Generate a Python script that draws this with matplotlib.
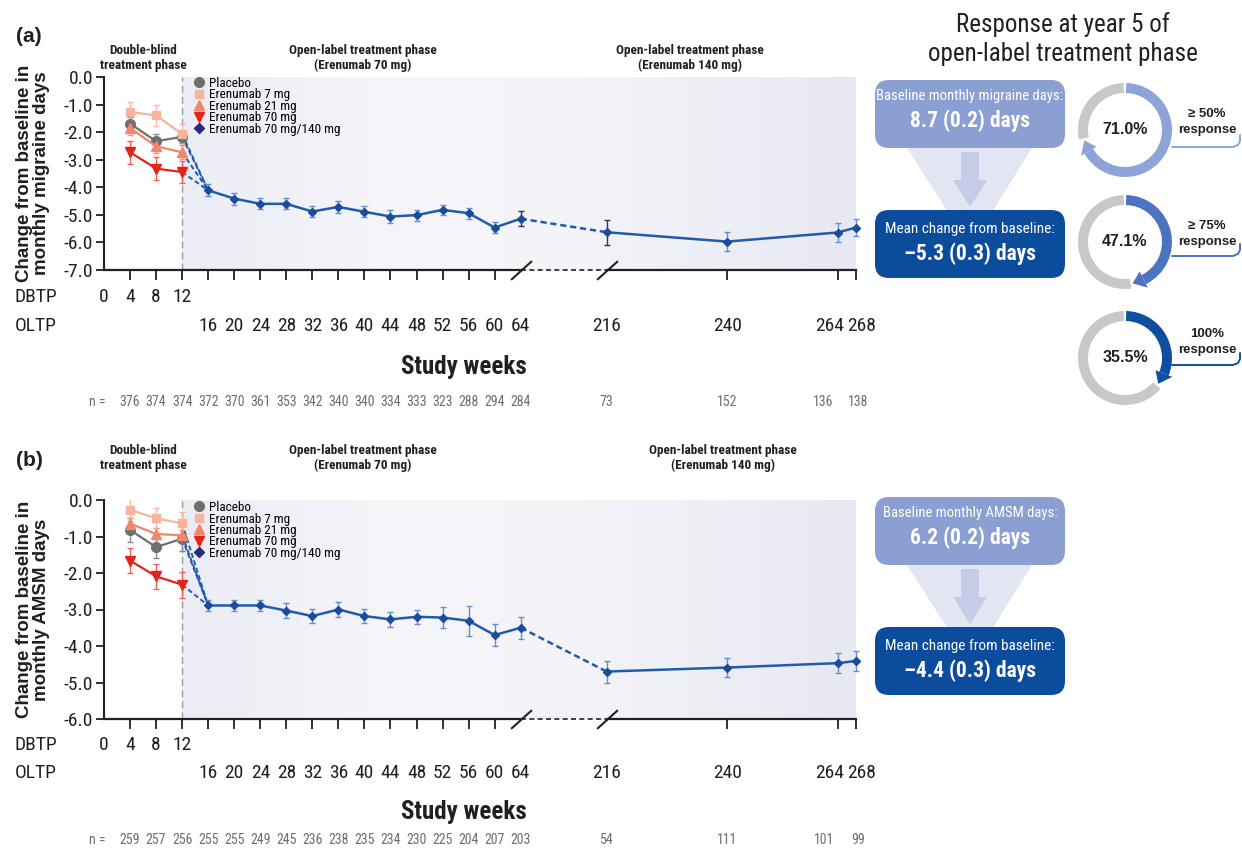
import numpy as np
import matplotlib
matplotlib.use('Agg')
import matplotlib.pyplot as plt
import matplotlib.transforms as mtransforms
from matplotlib.colors import LinearSegmentedColormap
from matplotlib.lines import Line2D
from matplotlib.patches import FancyBboxPatch, Polygon, Wedge, Rectangle

NARROW = ['Roboto Condensed', 'Archivo Narrow', 'DejaVu Sans']
SANS = ['Liberation Sans', 'DejaVu Sans']
plt.rcParams['font.family'] = NARROW

# ---- data -------------------------------------------------------------
weeks_db = [4, 8, 12]
weeks_ol = [16, 20, 24, 28, 32, 36, 40, 44, 48, 52, 56, 60, 64, 216, 240, 264, 268]
weeks_n = weeks_db + weeks_ol

group_names = ['Placebo', 'Erenumab 7 mg', 'Erenumab 21 mg', 'Erenumab 70 mg',
               'Erenumab 70 mg/140 mg']

# (a) monthly migraine days, double-blind phase: mean and SE
mmd_placebo = [-1.69, -2.33, -2.17]
mmd_placebo_se = [0.25, 0.25, 0.22]
mmd_7mg = [-1.27, -1.39, -2.07]
mmd_7mg_se = [0.38, 0.38, 0.38]
mmd_21mg = [-1.85, -2.51, -2.73]
mmd_21mg_se = [0.25, 0.25, 0.25]
mmd_70mg = [-2.73, -3.32, -3.45]
mmd_70mg_se = [0.42, 0.42, 0.40]
# (a) open-label phase
mmd_ol = [-4.11, -4.41, -4.60, -4.60, -4.88, -4.71, -4.89, -5.06, -5.01,
          -4.82, -4.94, -5.46, -5.14, -5.63, -5.97, -5.64, -5.46]
mmd_ol_se = [0.22, 0.22, 0.20, 0.20, 0.20, 0.22, 0.20, 0.22, 0.20,
             0.18, 0.20, 0.20, 0.28, 0.46, 0.34, 0.34, 0.32]
mmd_n = [376, 374, 374, 372, 370, 361, 353, 342, 340, 340, 334, 333, 323,
         288, 294, 284, 73, 152, 136, 138]

# (b) monthly acute migraine-specific medication days
amsm_placebo = [-0.82, -1.29, -1.06]
amsm_placebo_se = [0.32, 0.30, 0.35]
amsm_7mg = [-0.27, -0.50, -0.64]
amsm_7mg_se = [0.30, 0.28, 0.30]
amsm_21mg = [-0.65, -0.93, -0.97]
amsm_21mg_se = [0.15, 0.15, 0.15]
amsm_70mg = [-1.66, -2.09, -2.32]
amsm_70mg_se = [0.34, 0.35, 0.36]
amsm_ol = [-2.89, -2.89, -2.89, -3.03, -3.18, -3.00, -3.18, -3.27, -3.20,
           -3.22, -3.31, -3.70, -3.50, -4.70, -4.59, -4.47, -4.41]
amsm_ol_se = [0.15, 0.15, 0.15, 0.20, 0.20, 0.20, 0.20, 0.20, 0.20,
              0.30, 0.41, 0.30, 0.30, 0.30, 0.27, 0.27, 0.27]
amsm_n = [259, 257, 256, 255, 255, 249, 245, 236, 238, 235, 234, 230, 225,
          204, 207, 203, 54, 111, 101, 99]

db_ticks = [0, 4, 8, 12]
ol_ticks = [16, 20, 24, 28, 32, 36, 40, 44, 48, 52, 56, 60, 64, 216, 240, 264, 268]

response_pct = [71.0, 47.1, 35.5]
response_labels = ['\u2265 50%\nresponse', '\u2265 75%\nresponse', '100%\nresponse']

# ---- colours ----------------------------------------------------------
AXIS = '#231f20'
BLUE = '#1f5cab'
DIAMOND = '#1b4b9b'
EBAR = '#5f90d0'
NAVY = '#2b2a7f'
group_colors = ['#6f6f6f', '#f6b49d', '#f2866a', '#e1251b', NAVY]
group_ecolors = ['#8a8a8a', '#f4b9a5', '#f29a82', '#e8635a']
group_markers = ['o', 's', '^', 'v', 'D']
group_ms = [7, 5.5, 7.5, 7.5, 5]
donut_colors = ['#8ea3d7', '#4c73c1', '#0e4fa0']
BOX_LIGHT = '#8c9fd3'
BOX_DARK = '#0c4c9c'


# broken week axis: 0-64 linear, then compressed 216-268
KW = [0, 64, 216, 240, 268]
KU = [0, 64, 77.2, 95.7, 115.5]


def week_fwd(w):
    w = np.asarray(w, dtype=float)
    return np.where(w > 268, 115.5 + (w - 268) * 0.7,
                    np.where(w < 0, w, np.interp(w, KW, KU)))


def week_inv(u):
    u = np.asarray(u, dtype=float)
    return np.where(u > 115.5, 268 + (u - 115.5) / 0.7,
                    np.where(u < 0, u, np.interp(u, KU, KW)))


W, H = 1242, 851
fig = plt.figure(figsize=(W / 100, H / 100), dpi=100)

ov = fig.add_axes([0, 0, 1, 1], zorder=5)
ov.set_xlim(0, W)
ov.set_ylim(H, 0)
ov.axis('off')


def px_rect(left, top, right, bottom):
    return [left / W, 1 - bottom / H, (right - left) / W, (bottom - top) / H]


shade = LinearSegmentedColormap.from_list(
    'shade', [(0.0, '#ececf5'), (0.35, '#f6f6fa'), (0.6, '#f3f3f8'), (1.0, '#e8e8f3')])


def plot_panel(rect, ybot, db_vals, db_se, ol, ol_se, n_counts, ylabel,
               rows_y, dark_ebar, legend_top):
    bg = fig.add_axes(rect, zorder=0)
    bg.axis('off')
    x12 = float(week_fwd(12) / week_fwd(268))
    bg.imshow(np.linspace(0, 1, 256)[None, :], cmap=shade, aspect='auto',
              extent=[x12, 1, 0, 1])
    bg.set_xlim(0, 1)
    bg.set_ylim(0, 1)

    ax = fig.add_axes(rect, zorder=1)
    ax.patch.set_alpha(0)
    ax.set_xscale('function', functions=(week_fwd, week_inv))
    ax.set_xlim(0, 268)
    ax.set_ylim(ybot, 0)

    ax.axvline(12, color='#9b9b9b', ls=(0, (5, 3)), lw=1, zorder=1)

    # double-blind groups and their hand-over to the open-label phase
    for vals, se, c, ec, m, ms in zip(db_vals, db_se, group_colors, group_ecolors,
                                      group_markers, group_ms):
        ax.plot([12, 16], [vals[-1], ol[0]], color=BLUE, ls=(0, (2.5, 1.5)),
                lw=1.4, zorder=2)
        ax.errorbar(weeks_db, vals, yerr=se, color=c, ecolor=ec, marker=m, ms=ms,
                    lw=1.6, elinewidth=1, capsize=2.5, capthick=1, zorder=3)

    k = weeks_ol.index(64)
    ax.plot(weeks_ol[:k + 1], ol[:k + 1], color=BLUE, lw=1.8, zorder=3)
    ax.plot(weeks_ol[k:k + 2], ol[k:k + 2], color=BLUE, lw=1.8,
            ls=(0, (2.5, 1.5)), zorder=3)
    ax.plot(weeks_ol[k + 1:], ol[k + 1:], color=BLUE, lw=1.8, zorder=3,
            clip_on=False)
    light = [i for i in range(len(weeks_ol)) if weeks_ol[i] not in dark_ebar]
    dark = [i for i in range(len(weeks_ol)) if weeks_ol[i] in dark_ebar]
    for idx, ec in ((light, EBAR), (dark, NAVY)):
        if idx:
            ax.errorbar([weeks_ol[i] for i in idx], [ol[i] for i in idx],
                        yerr=[ol_se[i] for i in idx], fmt='none', ecolor=ec,
                        elinewidth=1, capsize=2.5, capthick=1, zorder=3,
                        clip_on=False)
    ax.plot(weeks_ol, ol, 'D', ms=4.2, color=DIAMOND, zorder=4, clip_on=False)

    handles = [Line2D([], [], ls='none', marker=m, color=c, ms=ms)
               for m, c, ms in zip(group_markers, group_colors, group_ms)]
    ax.legend(handles, group_names, loc='upper left',
              bbox_to_anchor=(0.12, legend_top), frameon=False, fontsize=9.5,
              handlelength=0.7, handletextpad=0.4, labelspacing=-0.12,
              borderpad=0, borderaxespad=0)

    # axes frame with the broken bottom axis
    for s in ('top', 'right', 'bottom'):
        ax.spines[s].set_visible(False)
    ax.spines['left'].set_color(AXIS)
    ax.spines['left'].set_linewidth(1.5)
    ax.plot([0, 64], [ybot, ybot], color=AXIS, lw=1.6, clip_on=False, zorder=5)
    ax.plot([64, 216], [ybot, ybot], color=AXIS, lw=1.2, ls=(0, (3, 2)),
            clip_on=False, zorder=5)
    ax.plot([216, 268], [ybot, ybot], color=AXIS, lw=1.6, clip_on=False, zorder=5)
    ax.plot([64, 216], [ybot, ybot], ls='none', marker=[(-1, -0.9), (1, 0.9)],
            ms=15, mew=1.5, mec=AXIS, clip_on=False, zorder=6)

    ax.set_xticks([4, 8, 12, 16, 20, 24, 28, 32, 36, 40, 44, 48, 52, 56, 60,
                   240, 264, 268])
    ax.tick_params(axis='x', direction='out', length=7, width=1.3, color=AXIS,
                   labelbottom=False)
    yt = np.arange(0, ybot - 1, -1)
    ax.set_yticks(yt)
    ax.set_yticklabels(['%.1f' % float(v) for v in yt])
    ax.tick_params(axis='y', direction='out', length=6, width=1.3, color=AXIS,
                   labelsize=14, labelcolor=AXIS, pad=2)
    ax.minorticks_off()

    # two-row week labels and patient counts under the axis
    blend = mtransforms.blended_transform_factory(ax.transData, ov.transData)
    y_db, y_ol, y_title, y_n = rows_y
    ov.text(15, y_db, 'DBTP', ha='left', va='center', fontsize=14, color=AXIS)
    ov.text(15, y_ol, 'OLTP', ha='left', va='center', fontsize=14, color=AXIS)
    for w in db_ticks:
        ov.text(w, y_db, str(w), transform=blend, ha='center', va='center',
                fontsize=14, color=AXIS)
    shift = {264: -8, 268: 6}
    for w in ol_ticks:
        tr = mtransforms.offset_copy(blend, fig=fig, x=shift.get(w, 0), y=0,
                                     units='dots')
        ov.text(w, y_ol, str(w), transform=tr, ha='center', va='center',
                fontsize=14, color=AXIS)
    ov.text(464, y_title, 'Study weeks', ha='center', va='center', fontsize=18,
            fontweight='bold', color=AXIS)
    ov.text(97, y_n, 'n =', ha='center', va='center', fontsize=10,
            color='#6d6e71')
    nshift = {264: -14, 268: 2}
    for w, n in zip(weeks_n, n_counts):
        tr = mtransforms.offset_copy(blend, fig=fig, x=nshift.get(w, 0), y=0,
                                     units='dots')
        ov.text(w, y_n, str(n), transform=tr, ha='center', va='center',
                fontsize=10, color='#6d6e71')

    cy = (rect[1] + rect[3] / 2)
    ov.text(33, (1 - cy) * H, ylabel, rotation=90, ha='center', va='center',
            fontsize=13.5, fontweight='bold', family=SANS, color=AXIS,
            linespacing=1.05)
    return ax


def phase_headers(y, x140):
    kw = dict(ha='center', va='center', fontsize=9.5, fontweight='bold',
              color=AXIS, linespacing=1.25)
    ov.text(143, y, 'Double-blind\ntreatment phase', **kw)
    ov.text(363, y, 'Open-label treatment phase\n(Erenumab 70 mg)', **kw)
    ov.text(x140, y, 'Open-label treatment phase\n(Erenumab 140 mg)', **kw)


def summary_boxes(top, label1, value1, value2):
    y0, y1 = top, top + 68
    y2, y3 = top + 130, top + 198
    ov.add_patch(Polygon([(907, y1), (1032, y1), (992, y2 + 2), (948, y2 + 2)],
                         closed=True, color='#e2e6f3', lw=0, zorder=1))
    ov.add_patch(Rectangle((961, y1 + 4), 18, 28, color='#c6cce8', lw=0, zorder=2))
    ov.add_patch(Polygon([(953, y1 + 32), (987, y1 + 32), (970, y2 - 3)],
                         closed=True, color='#c6cce8', lw=0, zorder=2))
    for (a, b), c in (((y0, y1), BOX_LIGHT), ((y2, y3), BOX_DARK)):
        ov.add_patch(FancyBboxPatch((875, a), 190, b - a,
                                    boxstyle='round,pad=0,rounding_size=14',
                                    color=c, lw=0, zorder=3))
    ov.text(970, y0 + 16, label1, ha='center', va='center', fontsize=10.5,
            color='white', zorder=4)
    ov.text(970, y0 + 41, value1, ha='center', va='center', fontsize=15.5,
            fontweight='bold', color='white', zorder=4)
    ov.text(970, y2 + 19, 'Mean change from baseline:', ha='center', va='center',
            fontsize=11, color='white', zorder=4)
    ov.text(970, y2 + 44, value2, ha='center', va='center', fontsize=15.5,
            fontweight='bold', color='white', zorder=4)


def donut(cx, cy, pct, color, label, label_cy, bracket_y):
    r_out, width = 47, 10
    r_mid = r_out - width / 2
    end = -90 + pct * 3.6
    head = 16
    ov.add_patch(Wedge((cx, cy), r_out, -88.5, end - head, width=width,
                       color=color, lw=0))
    ov.add_patch(Wedge((cx, cy), r_out, end + 3, 268.5, width=width,
                       color='#c8c8c8', lw=0))
    t0, t1 = np.deg2rad(end - head), np.deg2rad(end)
    tri = [(cx + (r_mid + 9) * np.cos(t0), cy + (r_mid + 9) * np.sin(t0)),
           (cx + r_mid * np.cos(t1), cy + r_mid * np.sin(t1)),
           (cx + (r_mid - 9) * np.cos(t0), cy + (r_mid - 9) * np.sin(t0))]
    ov.add_patch(Polygon(tri, closed=True, color=color, lw=0))
    ov.text(cx, cy, '%.1f%%' % pct, ha='center', va='center', fontsize=11.5,
            fontweight='bold', family=SANS, color=AXIS)
    ov.text(1207, label_cy, label, ha='center', va='center', fontsize=9.5,
            fontweight='bold', family=SANS, color=AXIS, linespacing=1.35)
    ov.plot([cx + r_out, 1233, 1238, 1240, 1240],
            [bracket_y, bracket_y, bracket_y - 2, bracket_y - 6, bracket_y - 12],
            color=color, lw=1.4, solid_capstyle='round')


# ---- panel (a) --------------------------------------------------------
plot_panel(px_rect(104, 77, 856, 270), -7,
           [mmd_placebo, mmd_7mg, mmd_21mg, mmd_70mg],
           [mmd_placebo_se, mmd_7mg_se, mmd_21mg_se, mmd_70mg_se],
           mmd_ol, mmd_ol_se, mmd_n,
           'Change from baseline in\nmonthly migraine days',
           (297, 326, 367, 402), (64, 216), 1.0)
phase_headers(58, 690)
ov.text(16, 37, '(a)', ha='left', va='center', fontsize=15, fontweight='bold',
        family=SANS, color=AXIS)

ov.text(1063, 39, 'Response at year 5 of\nopen-label treatment phase',
        ha='center', va='center', fontsize=18, color=AXIS, linespacing=1.3)
summary_boxes(80, 'Baseline monthly migraine days:', '8.7 (0.2) days',
              '\u20135.3 (0.3) days')
for pct, c, lab, dcy, lcy, by in zip(response_pct, donut_colors, response_labels,
                                     [130, 242, 358], [122, 234, 342],
                                     [147, 256, 365]):
    donut(1125, dcy, pct, c, lab, lcy, by)

# ---- panel (b) --------------------------------------------------------
plot_panel(px_rect(104, 500, 856, 719), -6,
           [amsm_placebo, amsm_7mg, amsm_21mg, amsm_70mg],
           [amsm_placebo_se, amsm_7mg_se, amsm_21mg_se, amsm_70mg_se],
           amsm_ol, amsm_ol_se, amsm_n,
           'Change from baseline in\nmonthly AMSM days',
           (745, 773, 812, 840), (), 0.995)
phase_headers(458, 723)
ov.text(16, 460, '(b)', ha='left', va='center', fontsize=15, fontweight='bold',
        family=SANS, color=AXIS)
summary_boxes(497, 'Baseline monthly AMSM days:', '6.2 (0.2) days',
              '\u20134.4 (0.3) days')

fig.savefig('out.png', dpi=100, facecolor='white')
